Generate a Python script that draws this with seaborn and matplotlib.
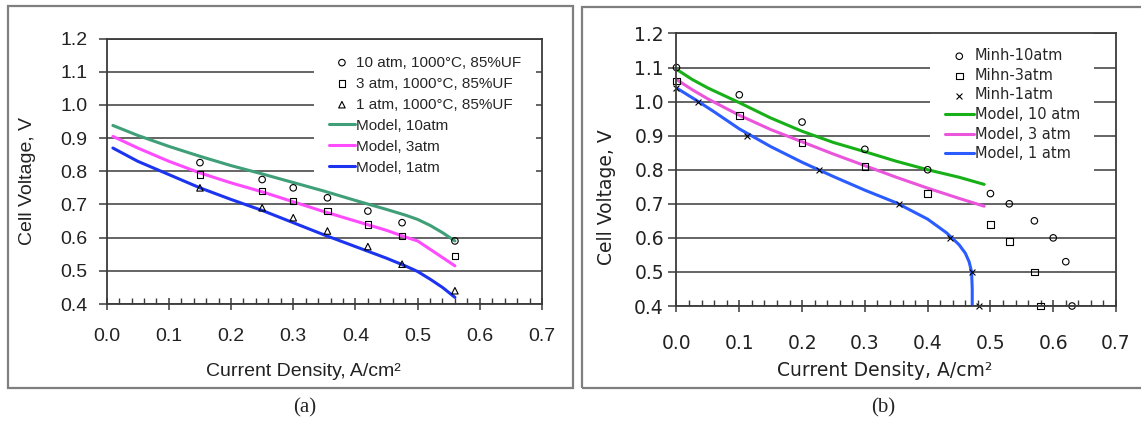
import matplotlib.pyplot as plt
import matplotlib.ticker as mticker
import numpy as np
import seaborn as sns
from matplotlib.patches import Rectangle

# ---- panel (a) measured points ----
a_x = [0.15, 0.25, 0.30, 0.355, 0.42, 0.475, 0.56]
a_10atm = [0.826, 0.775, 0.75, 0.72, 0.68, 0.645, 0.59]
a_3atm = [0.79, 0.74, 0.71, 0.68, 0.64, 0.605, 0.545]
a_1atm = [0.75, 0.69, 0.66, 0.62, 0.573, 0.52, 0.44]

# ---- panel (a) model curves ----
a_model_x = [0.01, 0.05, 0.10, 0.15, 0.20, 0.25, 0.30, 0.35, 0.40, 0.45, 0.48, 0.50, 0.52, 0.54, 0.56]
a_model_10 = [0.938, 0.908, 0.875, 0.845, 0.817, 0.792, 0.766, 0.740, 0.712, 0.685, 0.668, 0.655, 0.637, 0.615, 0.590]
a_model_3 = [0.905, 0.870, 0.830, 0.795, 0.765, 0.738, 0.708, 0.678, 0.650, 0.622, 0.602, 0.590, 0.565, 0.540, 0.515]
a_model_1 = [0.870, 0.830, 0.790, 0.750, 0.715, 0.682, 0.645, 0.608, 0.573, 0.538, 0.515, 0.498, 0.475, 0.450, 0.420]

# ---- panel (b) measured points (Minh) ----
b10_x = [0.0, 0.1, 0.2, 0.3, 0.4, 0.5, 0.53, 0.57, 0.60, 0.62, 0.63]
b10_y = [1.10, 1.02, 0.94, 0.86, 0.80, 0.73, 0.70, 0.65, 0.60, 0.53, 0.40]
b3_x = [0.0, 0.1, 0.2, 0.3, 0.4, 0.5, 0.53, 0.57, 0.58]
b3_y = [1.06, 0.96, 0.88, 0.81, 0.73, 0.64, 0.59, 0.50, 0.40]
b1_x = [0.0, 0.035, 0.112, 0.227, 0.355, 0.436, 0.471, 0.482]
b1_y = [1.04, 1.00, 0.90, 0.80, 0.70, 0.60, 0.50, 0.40]

# ---- panel (b) model curves ----
b_model_x = [0.0, 0.025, 0.05, 0.1, 0.15, 0.2, 0.25, 0.3, 0.35, 0.4, 0.45, 0.49]
b_model_10 = [1.095, 1.065, 1.040, 0.997, 0.952, 0.913, 0.880, 0.853, 0.825, 0.800, 0.778, 0.757]
b_model_3 = [1.065, 1.035, 1.008, 0.960, 0.918, 0.882, 0.846, 0.812, 0.778, 0.746, 0.716, 0.693]
b_model1_x = [0.0, 0.035, 0.06, 0.1, 0.15, 0.2, 0.25, 0.3, 0.35, 0.4, 0.43, 0.45, 0.46, 0.466, 0.47, 0.471, 0.471]
b_model1_y = [1.04, 1.00, 0.97, 0.92, 0.868, 0.822, 0.780, 0.740, 0.703, 0.655, 0.615, 0.580, 0.555, 0.530, 0.500, 0.450, 0.400]

a_labels = ["10 atm, 1000°C, 85%UF", "3 atm, 1000°C, 85%UF", "1 atm, 1000°C, 85%UF",
            "Model, 10atm", "Model, 3atm", "Model, 1atm"]
b_labels = ["Minh-10atm", "Mihn-3atm", "Minh-1atm",
            "Model, 10 atm", "Model, 3 atm", "Model, 1 atm"]
x_ticks = [0.0, 0.1, 0.2, 0.3, 0.4, 0.5, 0.6, 0.7]
y_ticks = [0.4, 0.5, 0.6, 0.7, 0.8, 0.9, 1.0, 1.1, 1.2]

sns.set_style("white")

fig = plt.figure(figsize=(11.41, 4.25), dpi=100)
ax_a = fig.add_axes([0.0935, 0.2847, 0.3815, 0.6247])
ax_b = fig.add_axes([0.5929, 0.2800, 0.3852, 0.6412])

# outer boxes around each panel
fig.patches.append(Rectangle((0.007, 0.0871), 0.4952, 0.8988, transform=fig.transFigure,
                             fill=False, edgecolor="#7f7f7f", linewidth=1.6))
fig.patches.append(Rectangle((0.5101, 0.0871), 0.492, 0.8964, transform=fig.transFigure,
                             fill=False, edgecolor="#7f7f7f", linewidth=1.6))


def style_axes(ax, family, tick_size, x_pad, y_pad):
    ax.set_xlim(0, 0.7)
    ax.set_ylim(0.4, 1.2)
    ax.set_xticks(x_ticks)
    ax.set_yticks(y_ticks)
    ax.xaxis.set_minor_locator(mticker.MultipleLocator(0.02))
    ax.xaxis.set_major_formatter(mticker.FormatStrFormatter("%.1f"))
    ax.yaxis.set_major_formatter(mticker.FormatStrFormatter("%.1f"))
    ax.yaxis.grid(True, color="#3a3a3a", linewidth=1.1)
    ax.set_axisbelow(True)
    for sp in ax.spines.values():
        sp.set_visible(True)
        sp.set_color("#3a3a3a")
        sp.set_linewidth(1.3)
        sp.set_zorder(5)
    ax.tick_params(axis="x", which="major", direction="inout", length=8, width=1.1,
                   color="#3a3a3a", pad=x_pad, labelsize=tick_size, bottom=True)
    ax.tick_params(axis="x", which="minor", direction="in", length=4, width=1.0,
                   color="#3a3a3a", bottom=True)
    ax.tick_params(axis="y", which="major", direction="out", length=6, width=1.1,
                   color="#3a3a3a", pad=y_pad, labelsize=tick_size, left=True)
    for lab in ax.get_xticklabels() + ax.get_yticklabels():
        lab.set_fontfamily(family)
        lab.set_color("#222222")


pts = dict(s=22, facecolor="none", edgecolor="black", linewidth=0.8, zorder=4, clip_on=False)

# ---------------- panel (a) ----------------
sns.scatterplot(x=a_x, y=a_10atm, ax=ax_a, marker="o", label=a_labels[0], **pts)
sns.scatterplot(x=a_x, y=a_3atm, ax=ax_a, marker="s", label=a_labels[1], **pts)
sns.scatterplot(x=a_x, y=a_1atm, ax=ax_a, marker="^", label=a_labels[2], **pts)
sns.lineplot(x=a_model_x, y=a_model_10, ax=ax_a, color="#3f9f78", linewidth=2.2,
             sort=False, estimator=None, label=a_labels[3], zorder=3)
sns.lineplot(x=a_model_x, y=a_model_3, ax=ax_a, color="#ff4cff", linewidth=2.2,
             sort=False, estimator=None, label=a_labels[4], zorder=3)
sns.lineplot(x=a_model_x, y=a_model_1, ax=ax_a, color="#1c34f0", linewidth=2.2,
             sort=False, estimator=None, label=a_labels[5], zorder=3)

style_axes(ax_a, "Liberation Sans", 14, 13, 8)
ax_a.set_xlabel("Current Density, A/cm²", fontsize=14, family="Liberation Sans", color="#222222")
ax_a.set_ylabel("Cell Voltage, V", fontsize=14, family="Liberation Sans", color="#222222")
ax_a.xaxis.set_label_coords(0.452, -0.256)
ax_a.xaxis.label.set_va("center")
ax_a.yaxis.set_label_coords(-0.181, 0.462)
ax_a.yaxis.label.set_va("center")

h, l = ax_a.get_legend_handles_labels()
leg_a = ax_a.legend(h, l, loc="upper left", bbox_to_anchor=(0.4755, 0.993), frameon=True,
                    facecolor="white", edgecolor="none", framealpha=1, fancybox=False,
                    borderpad=1.0, borderaxespad=0, handlelength=1.7, handletextpad=0.05,
                    labelspacing=0.46, prop={"family": "Liberation Sans", "size": 11})
leg_a.set_zorder(2.5)

# ---------------- panel (b) ----------------
sns.scatterplot(x=b10_x, y=b10_y, ax=ax_b, marker="o", label=b_labels[0], **pts)
sns.scatterplot(x=b3_x, y=b3_y, ax=ax_b, marker="s", label=b_labels[1], **pts)
sns.scatterplot(x=b1_x, y=b1_y, ax=ax_b, marker="x", s=18, color="black",
                linewidth=0.8, label=b_labels[2], zorder=4, clip_on=False)
sns.lineplot(x=b_model_x, y=b_model_10, ax=ax_b, color="#18b018", linewidth=2.2,
             sort=False, estimator=None, label=b_labels[3], zorder=3)
sns.lineplot(x=b_model_x, y=b_model_3, ax=ax_b, color="#ea55dc", linewidth=2.2,
             sort=False, estimator=None, label=b_labels[4], zorder=3)
sns.lineplot(x=b_model1_x, y=b_model1_y, ax=ax_b, color="#2a5cff", linewidth=2.2,
             sort=False, estimator=None, label=b_labels[5], zorder=3)

style_axes(ax_b, "DejaVu Sans", 13.5, 16, 3)
ax_b.set_xlabel("Current Density, A/cm²", fontsize=13.5, family="DejaVu Sans", color="#222222")
ax_b.set_ylabel("Cell Voltage, V", fontsize=13.5, family="DejaVu Sans", color="#222222")
ax_b.xaxis.set_label_coords(0.474, -0.237)
ax_b.xaxis.label.set_va("center")
ax_b.yaxis.set_label_coords(-0.16, 0.40)
ax_b.yaxis.label.set_va("center")

h, l = ax_b.get_legend_handles_labels()
leg_b = ax_b.legend(h, l, loc="upper left", bbox_to_anchor=(0.577, 1.0), frameon=True,
                    facecolor="white", edgecolor="none", framealpha=1, fancybox=False,
                    borderpad=1.0, borderaxespad=0, handlelength=2.0, handletextpad=0.05,
                    labelspacing=0.32, prop={"family": "DejaVu Sans", "size": 10.5})
leg_b.set_zorder(2.5)

# panel captions
fig.text(305 / 1141, 1 - 408 / 425, "(a)", ha="center", va="center",
         fontsize=15, family="Liberation Serif")
fig.text(883 / 1141, 1 - 408 / 425, "(b)", ha="center", va="center",
         fontsize=15, family="Liberation Serif")

fig.savefig("out.png", dpi=100)
